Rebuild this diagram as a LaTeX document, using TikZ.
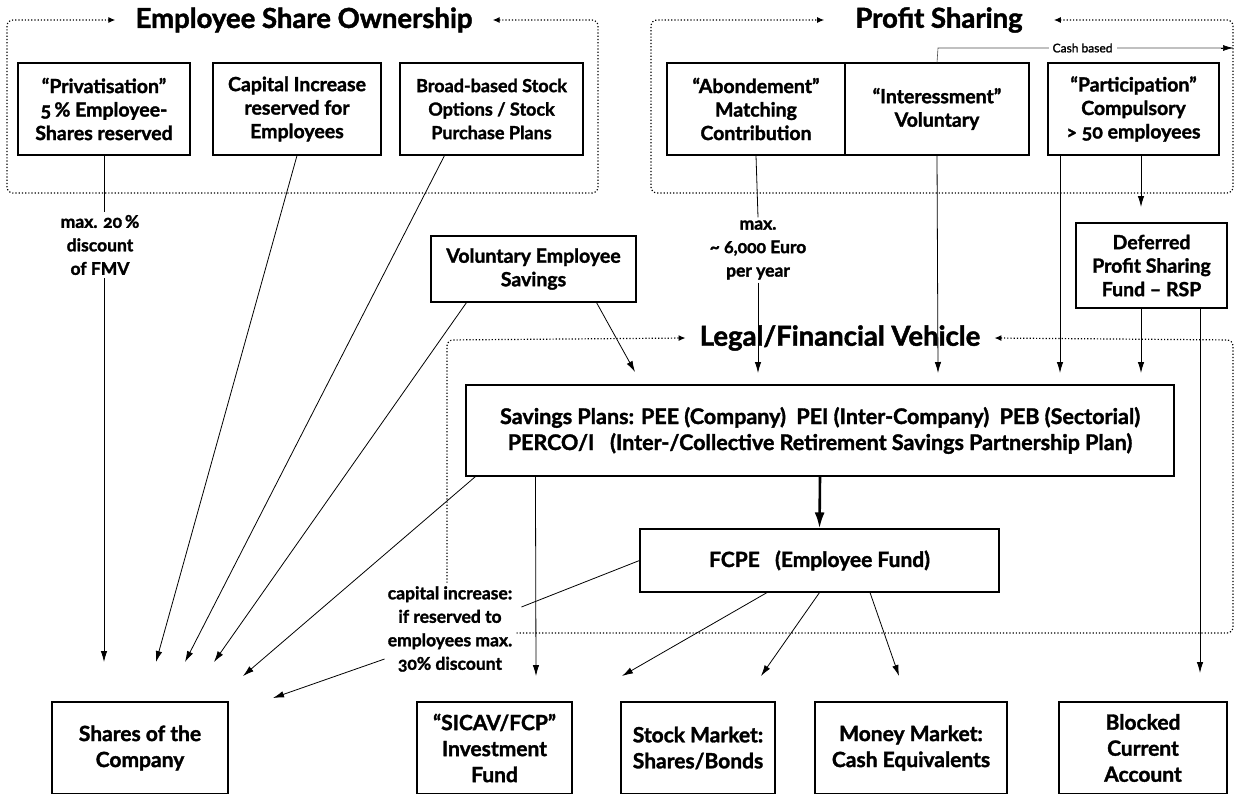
\documentclass[tikz,border=0pt]{standalone}
\usepackage{fontspec}
\setmainfont{Lato}[Numbers=OldStyle, FakeBold=1.6]
\usetikzlibrary{arrows.meta}

\tikzset{
  box/.style={draw, line width=1.1pt, align=center, inner sep=2pt,
    font=\bfseries\fontsize{19.5}{23.5}\selectfont},
  note/.style={align=center, fill=white, inner sep=3pt,
    font=\bfseries\fontsize{17.5}{23.5}\selectfont},
  heading/.style={font=\bfseries\fontsize{27.5}{30}\selectfont, inner ysep=0pt},
  frame/.style={dotted, line width=1.2pt, rounded corners=6pt,
    {Latex[length=7pt,width=6pt]}-{Latex[length=7pt,width=6pt]}},
  flow/.style={line width=0.8pt, -{Latex[length=11pt,width=6.5pt]}},
  plain/.style={line width=0.8pt}
}

\begin{document}
\begin{tikzpicture}[x=1pt,y=-1pt]
\useasboundingbox (0,0) rectangle (1236,793);

% group headings
\node[heading, inner xsep=20pt] (esotitle) at (304,20) {Employee Share Ownership};
\node[heading, inner xsep=31pt] (pstitle) at (939,20) {Profit Sharing};
\node[heading, inner xsep=14pt] (lftitle) at (840,338) {Legal/Financial Vehicle};

% dotted group frames
\draw[frame] (esotitle.east) -- (598,20) -- (598,193) -- (7,193) -- (7,20) -- (esotitle.west);
\draw[frame] (pstitle.east) -- (1233,20) -- (1233,193) -- (651,193) -- (651,20) -- (pstitle.west);
\draw[frame] (lftitle.east) -- (1233,340) -- (1233,633) -- (447,633) -- (447,340) -- (lftitle.west);

% employee share ownership
\node[box, minimum width=172, minimum height=92] (priv) at (104,109)
  {``Privatisation''\\5\,\% Employee-\\Shares reserved};
\node[box, minimum width=168, minimum height=92] (capinc) at (297,109)
  {Capital Increase\\reserved for\\Employees};
\node[box, minimum width=183, minimum height=92, font=\bfseries\fontsize{18}{23.5}\selectfont] (options) at (491.5,109)
  {Broad-based Stock\\Options / Stock\\Purchase Plans};

% profit sharing
\node[box, minimum width=178, minimum height=92] (abond) at (756,109)
  {``Abondement''\\Matching\\Contribution};
\node[box, minimum width=184, minimum height=92] (inter) at (937,109)
  {``Interessment''\\Voluntary};
\node[box, minimum width=171, minimum height=92] (partic) at (1133.5,109)
  {``Participation''\\Compulsory\\> 50 employees};
\node[box, minimum width=151, minimum height=85] (deferred) at (1151.5,265.5)
  {Deferred\\Profit Sharing\\Fund -- RSP};
\node[box, minimum width=205, minimum height=66] (voluntary) at (533.5,269)
  {Voluntary Employee\\Savings};

% vehicles
\node[box, minimum width=708, minimum height=91, font=\bfseries\fontsize{21.5}{26}\selectfont] (savings) at (820,430.5)
  {Savings Plans: PEE (Company)\ \ PEI (Inter-Company)\ \ PEB (Sectorial)\\
   PERCO/I\ \ \ (Inter-/Collective Retirement Savings Partnership Plan)};
\node[box, minimum width=359, minimum height=63, font=\bfseries\fontsize{21}{26}\selectfont] (fcpe) at (819.5,560.5)
  {FCPE\ \ \ (Employee Fund)};

% investments
\node[box, minimum width=176, minimum height=92, font=\bfseries\fontsize{21}{26}\selectfont] (shares) at (140,748)
  {Shares of the\\Company};
\node[box, minimum width=155, minimum height=92, font=\bfseries\fontsize{21}{26}\selectfont] (sicav) at (494.5,748)
  {``SICAV/FCP''\\Investment\\Fund};
\node[box, minimum width=154, minimum height=92, font=\bfseries\fontsize{21}{26}\selectfont] (stock) at (698,748)
  {Stock Market:\\Shares/Bonds};
\node[box, minimum width=192, minimum height=92, font=\bfseries\fontsize{21}{26}\selectfont] (money) at (911,748)
  {Money Market:\\Cash Equivalents};
\node[box, minimum width=168, minimum height=92, font=\bfseries\fontsize{21}{26}\selectfont] (blocked) at (1143,748)
  {Blocked\\Current\\Account};

% notes on the connectors
\node[note] (max20) at (100,245) {max. 20\,\%\\discount\\of FMV};
\node[note] (max6000) at (758,250) {max.\\\textasciitilde\ 6,000 Euro\\per year};
\node[note] (capnote) at (450,629) {capital increase:\\if reserved to\\employees max.\\30\% discount};

% free arrow ends
\coordinate (tipPriv) at (104,662);
\coordinate (tipCap) at (156,662);
\coordinate (tipOpt) at (185,662);
\coordinate (tipVolA) at (214,662);
\coordinate (tipSavA) at (243,676);
\coordinate (tipNote) at (273,698);
\coordinate (tipVolB) at (635,372);
\coordinate (tipSicav) at (536,676);
\coordinate (tipStock) at (622,676);
\coordinate (tipStockB) at (761,676);
\coordinate (tipMoney) at (899,676);
\coordinate (tipAbond) at (758,373);
\coordinate (tipInter) at (938,373);
\coordinate (tipPartA) at (1060,373);
\coordinate (tipPartB) at (1141,207);
\coordinate (tipDefA) at (1141,373);
\coordinate (tipDefB) at (1200,673);
\coordinate (cashA) at (938,48);
\coordinate (cashB) at (1233,48);

% into the shares of the company
\draw[plain] (priv.south) -- (priv.south |- max20.north);
\draw[flow] (priv.south |- max20.south) -- (tipPriv);
\draw[flow] (capinc.south) -- (tipCap);
\draw[flow] ([xshift=-47pt]options.south) -- (tipOpt);
\draw[flow] ([xshift=-67pt]voluntary.south) -- (tipVolA);
\draw[flow] ([xshift=10pt]savings.south west) -- (tipSavA);
\draw[plain] (fcpe.west) -- ([xshift=6pt,yshift=22pt]capnote.east);
\draw[flow] ([yshift=-30pt]capnote.west) -- (tipNote);

% into the savings plans
\draw[flow] ([xshift=63pt]voluntary.south) -- (tipVolB);
\draw[plain] (abond.south) -- (max6000.north);
\draw[flow] (max6000.south) -- (tipAbond);
\draw[flow] (inter.south) -- (tipInter);
\draw[flow] ([xshift=-73.5pt]partic.south) -- (tipPartA);
\draw[flow] ([xshift=7.5pt]partic.south) -- (tipPartB);
\draw[flow] ([xshift=-10.5pt]deferred.south) -- (tipDefA);
\draw[flow] ([xshift=48.5pt]deferred.south) -- (tipDefB);

% cash based
\draw[line width=0.6pt, black!70] (inter.north) -- (cashA) -- (cashB)
  node[pos=0.49, fill=white, text=black, inner xsep=4pt, inner ysep=0pt, font=\fontsize{12}{13}\selectfont] (cashlab) {Cash based};
\draw[-{Latex[length=10pt,width=6pt]}, line width=0.6pt] ([xshift=-12pt]cashB) -- (cashB);

% vehicles to investments
\draw[line width=2.6pt, -{Latex[length=16pt,width=10pt]}] (savings.south) -- (fcpe.north);
\draw[flow] ([xshift=70pt]savings.south west) -- (tipSicav);
\draw[flow] ([xshift=-52.5pt]fcpe.south) -- (tipStock);
\draw[flow] (fcpe.south) -- (tipStockB);
\draw[flow] ([xshift=50.5pt]fcpe.south) -- (tipMoney);
\end{tikzpicture}
\end{document}
